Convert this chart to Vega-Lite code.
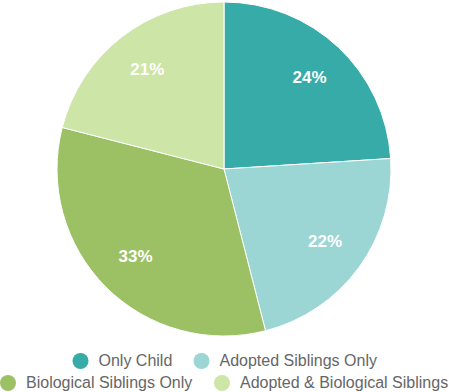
{
  "$schema": "https://vega.github.io/schema/vega-lite/v6.json",
  "width": 448,
  "height": 334,
  "padding": 0,
  "autosize": {"type": "pad"},
  "background": "white",
  "view": {"stroke": null},
  "data": {"values": [
    {"category": "Only Child", "value": 24, "idx": 1, "label": "24%"},
    {"category": "Adopted Siblings Only", "value": 22, "idx": 2, "label": "22%"},
    {"category": "Biological Siblings Only", "value": 33, "idx": 3, "label": "33%"},
    {"category": "Adopted & Biological Siblings", "value": 21, "idx": 4, "label": "21%"}
  ]},
  "encoding": {
    "theta": {"field": "value", "type": "quantitative", "stack": true},
    "order": {"field": "idx", "type": "quantitative"}
  },
  "layer": [
    {
      "mark": {"type": "arc", "outerRadius": 167, "stroke": "white", "strokeWidth": 1},
      "encoding": {
        "color": {
          "field": "category", "type": "nominal",
          "scale": {
            "domain": ["Only Child", "Adopted Siblings Only", "Biological Siblings Only", "Adopted & Biological Siblings"],
            "range": ["#36ABA7", "#9BD5D4", "#9CC164", "#CDE5A6"]
          },
          "legend": {
            "values": ["Only Child", "Adopted Siblings Only"],
            "orient": "none", "legendX": 72.5, "legendY": 351,
            "direction": "horizontal", "title": null
          }
        }
      }
    },
    {
      "mark": {"type": "arc", "outerRadius": 167, "stroke": "white", "strokeWidth": 1},
      "encoding": {
        "fill": {
          "field": "category", "type": "nominal",
          "scale": {
            "domain": ["Biological Siblings Only", "Adopted & Biological Siblings", "Only Child", "Adopted Siblings Only"],
            "range": ["#9CC164", "#CDE5A6", "#36ABA7", "#9BD5D4"]
          },
          "legend": {
            "values": ["Biological Siblings Only", "Adopted & Biological Siblings"],
            "orient": "none", "legendX": 0, "legendY": 373,
            "direction": "horizontal", "title": null
          }
        }
      }
    },
    {
      "mark": {"type": "text", "radius": 125, "fill": "white", "fontWeight": "bold", "fontSize": 17, "font": "Liberation Sans"},
      "encoding": {
        "text": {"field": "label", "type": "nominal"}
      }
    }
  ],
  "config": {
    "legend": {
      "symbolType": "circle",
      "symbolSize": 256,
      "symbolStrokeWidth": 0,
      "labelFontSize": 16,
      "labelFont": "Liberation Sans",
      "labelColor": "#666666",
      "columnPadding": 21,
      "labelOffset": 10,
      "labelLimit": 400
    }
  }
}
